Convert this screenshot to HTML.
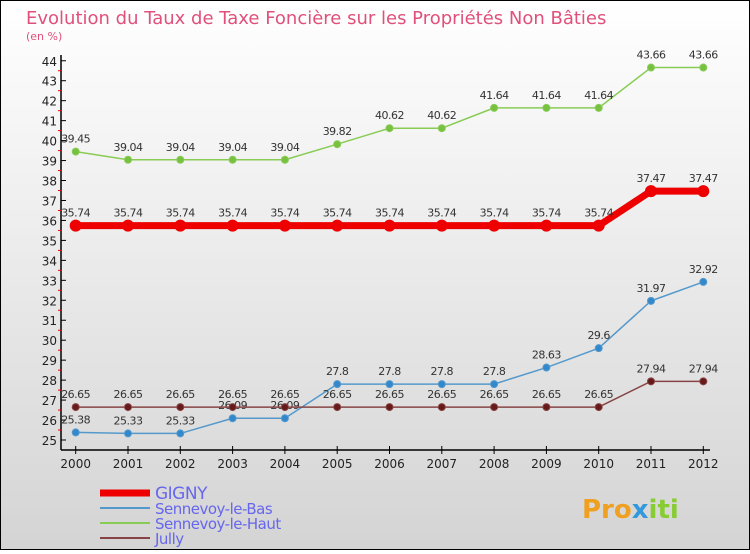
<!DOCTYPE html>
<html><head><meta charset="utf-8"><style>
body{margin:0;width:750px;height:550px;overflow:hidden;font-family:"DejaVu Sans","Liberation Sans",sans-serif}
</style></head><body>
<svg width="750" height="550" xmlns="http://www.w3.org/2000/svg">
<defs><linearGradient id="bg" x1="0" y1="0" x2="0" y2="1"><stop offset="0" stop-color="#ffffff"/><stop offset="1" stop-color="#d4d4d4"/></linearGradient></defs>
<rect x="0.5" y="0.5" width="749" height="549" fill="url(#bg)" stroke="#000"/>
<text x="26" y="24" font-size="18" fill="#e0507a">Evolution du Taux de Taxe Foncière sur les Propriétés Non Bâties</text>
<text x="26" y="40" font-size="11" fill="#e0507a">(en %)</text>
<g id="axes"></g><g id="series"></g><g id="legend"></g>
<text x="582" y="518" font-size="26" font-weight="bold" fill="#f0a020">Pro<tspan fill="#3399dd">x</tspan><tspan fill="#88cc33">iti</tspan></text>
</svg>
<script>
const years=[2000,2001,2002,2003,2004,2005,2006,2007,2008,2009,2010,2011,2012];
const gigny=[35.74,35.74,35.74,35.74,35.74,35.74,35.74,35.74,35.74,35.74,35.74,37.47,37.47];
const bas=[25.38,25.33,25.33,26.09,26.09,27.8,27.8,27.8,27.8,28.63,29.6,31.97,32.92];
const basLbl=["25.38","25.33","25.33","26.09","26.09","27.8","27.8","27.8","27.8","28.63","29.6","31.97","32.92"];
const haut=[39.45,39.04,39.04,39.04,39.04,39.82,40.62,40.62,41.64,41.64,41.64,43.66,43.66];
const jully=[26.65,26.65,26.65,26.65,26.65,26.65,26.65,26.65,26.65,26.65,26.65,27.94,27.94];
const yTicks=[25,26,27,28,29,30,31,32,33,34,35,36,37,38,39,40,41,42,43,44];
const NS="http://www.w3.org/2000/svg";
const X=i=>75.7+i*52.3, Y=v=>440-(v-25)*19.96;
function mk(p,t,a){const e=document.createElementNS(NS,t);for(const k in a)e.setAttribute(k,a[k]);p.appendChild(e);return e;}
const ax=document.getElementById('axes');
mk(ax,'line',{x1:61,y1:55,x2:61,y2:450,stroke:'#000','stroke-width':1.5});
mk(ax,'line',{x1:61,y1:450,x2:710,y2:450,stroke:'#000','stroke-width':1.5});
yTicks.forEach(v=>{
 mk(ax,'line',{x1:61,y1:Y(v),x2:66,y2:Y(v),stroke:'#000'});
 if(v<44) mk(ax,'line',{x1:58,y1:Y(v+0.5),x2:62,y2:Y(v+0.5),stroke:'#e00'});
 const t=mk(ax,'text',{x:57,y:Y(v)+5,'font-size':12,'text-anchor':'end',fill:'#222'});t.textContent=v;
 
 
});
years.forEach((y,i)=>{
 mk(ax,'line',{x1:X(i),y1:446,x2:X(i),y2:454,stroke:'#000'});
 const t=mk(ax,'text',{x:X(i),y:468,'font-size':12,'text-anchor':'middle',fill:'#222'});t.textContent=y;
 
 
});
const sg=document.getElementById('series');
function series(name,vals,labels,color,w,r,dot){
 const g=mk(sg,'g',{});
 
 
 mk(g,'polyline',{points:vals.map((v,i)=>X(i)+','+Y(v)).join(' '),fill:'none',stroke:color,'stroke-width':w,'stroke-linejoin':'round'});
 vals.forEach((v,i)=>{
  const c=mk(g,'circle',{cx:X(i),cy:Y(v),r:r,fill:dot,stroke:color});
  
  
  const t=mk(g,'text',{x:X(i),y:Y(v)-9,'font-size':11,'text-anchor':'middle',fill:'#333','letter-spacing':'-0.5'});
  t.textContent=labels?labels[i]:String(v);
  
  
 });
}
series('sennevoy-le-haut',haut,null,'#88cc55',1.5,3.5,'#77c040');
series('gigny',gigny,null,'#ee0000',7,5.5,'#ee0000');
series('sennevoy-le-bas',bas,basLbl,'#5599cc',1.5,3.5,'#3388cc');
series('jully',jully,null,'#884444',1.5,3.5,'#661a1a');
const lg=document.getElementById('legend');
[['GIGNY','#ee0000',7],['Sennevoy-le-Bas','#5599cc',2],['Sennevoy-le-Haut','#88cc55',2],['Jully','#884444',2]].forEach((e,i)=>{
 const yy=493+i*15;
 const g=mk(lg,'g',{});
 
 
 mk(g,'line',{x1:100,y1:yy,x2:150,y2:yy,stroke:e[1],'stroke-width':e[2]});
 const t=mk(g,'text',{x:155,y:yy+6,'font-size':i==0?17:15,fill:'#6666ee','letter-spacing':'-0.5'});t.textContent=e[0];
});
</script>
</body></html>
